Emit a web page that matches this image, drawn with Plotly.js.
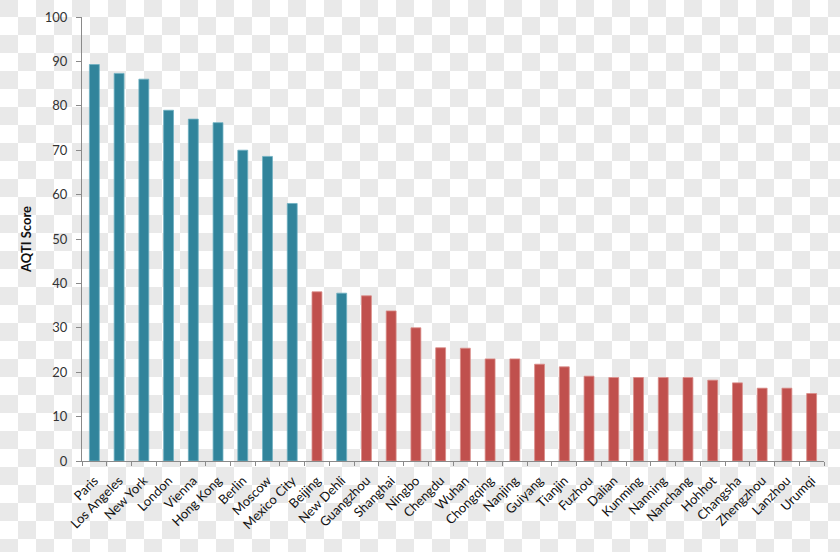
<!DOCTYPE html>
<html>
<head>
<meta charset="utf-8">
<script src="https://cdn.plot.ly/plotly-3.0.1.min.js"></script>
<style>
  html, body { margin: 0; padding: 0; }
  body {
    width: 840px; height: 552px; overflow: hidden;
    background: conic-gradient(#fff 0 25%, #e9e9e9 0 50%, #fff 0 75%, #e9e9e9 0) 0 -1px / 36px 36px;
  }
  #chart { width: 840px; height: 552px; }
</style>
</head>
<body>
<div id="chart"></div>
<script>
const cities = ["Paris", "Los Angeles", "New York", "London", "Vienna", "Hong Kong", "Berlin", "Moscow", "Mexico City",
  "Beijing", "New Dehli", "Guangzhou", "Shanghai", "Ningbo", "Chengdu", "Wuhan", "Chongqing", "Nanjing", "Guiyang",
  "Tianjin", "Fuzhou", "Dalian", "Kunming", "Nanning", "Nanchang", "Hohhot", "Changsha", "Zhengzhou", "Lanzhou", "Urumqi"];
const scores = [89.3, 87.3, 86.0, 79.0, 77.0, 76.2, 70.0, 68.6, 58.0,
  38.1, 37.8, 37.2, 33.8, 30.0, 25.5, 25.4, 23.0, 23.0, 21.8,
  21.2, 19.1, 18.8, 18.8, 18.8, 18.8, 18.2, 17.6, 16.4, 16.4, 15.2];
const inChina = [false, false, false, false, false, false, false, false, false,
  true, false, true, true, true, true, true, true, true, true,
  true, true, true, true, true, true, true, true, true, true, true];
const yTitle = "AQTI Score";

const teal = "#31849B", red = "#C0504D";

const trace = {
  type: "bar",
  x: cities,
  y: scores,
  marker: {
    color: inChina.map(c => c ? red : teal),
    line: { color: inChina.map(c => c ? "#d98b88" : "#6fb0c2"), width: 0.8 }
  },
  hoverinfo: "x+y"
};

const layout = {
  width: 840, height: 552,
  margin: { l: 82, r: 16, t: 17, b: 91 },
  paper_bgcolor: "rgba(0,0,0,0)",
  plot_bgcolor: "rgba(0,0,0,0)",
  bargap: 0.6,
  showlegend: false,
  font: { family: "Lato, 'Open Sans', sans-serif", color: "#222" },
  xaxis: {
    type: "category",
    showgrid: false,
    showline: true, linecolor: "#8a8a8a", linewidth: 1,
    ticks: "outside", tickson: "boundaries", ticklen: 4, tickcolor: "#8a8a8a",
    tickangle: -45,
    ticklabelstandoff: 6,
    tickfont: { size: 13, color: "#111" },
    automargin: false,
    zeroline: false
  },
  yaxis: {
    range: [0, 100], dtick: 10,
    showgrid: false,
    showline: true, linecolor: "#8a8a8a", linewidth: 1,
    ticks: "outside", ticklen: 5, tickcolor: "#8a8a8a",
    ticklabelstandoff: 6,
    tickfont: { size: 13, color: "#333" },
    zeroline: false,
    automargin: false,
    title: { text: yTitle, font: { size: 13, color: "#111", family: "Lato, sans-serif", weight: "bold" }, standoff: 10 }
  }
};

Plotly.newPlot("chart", [trace], layout, { displayModeBar: false, staticPlot: true });
</script>
</body>
</html>
